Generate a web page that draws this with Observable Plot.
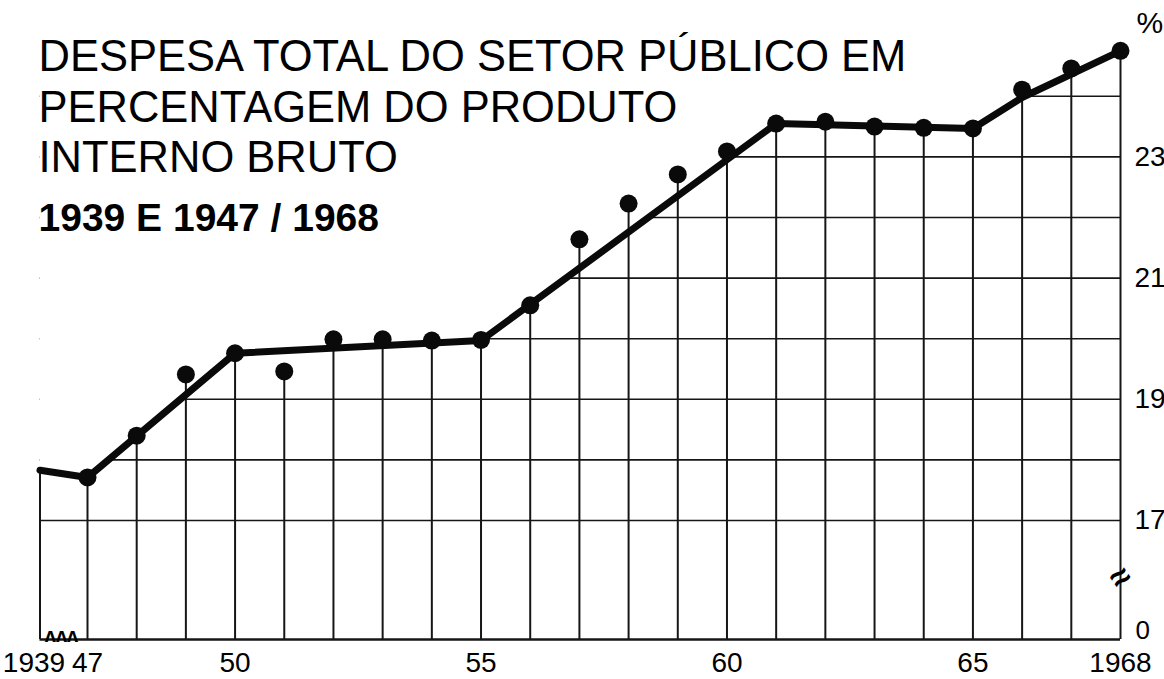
<!DOCTYPE html>
<html>
<head>
<meta charset="utf-8">
<script src="https://cdn.jsdelivr.net/npm/d3@7"></script>
<script src="https://cdn.jsdelivr.net/npm/@observablehq/plot@0.6"></script>
<style>
  html, body { margin: 0; padding: 0; background: #fff; }
  #chart { width: 1164px; height: 679px; }
</style>
</head>
<body>
<div id="chart"></div>
<script>
// ---- data ----
const years = [1947, 1948, 1949, 1950, 1951, 1952, 1953, 1954, 1955, 1956, 1957,
               1958, 1959, 1960, 1961, 1962, 1963, 1964, 1965, 1966, 1967, 1968];
const dotValues = [17.71, 18.40, 19.41, 19.76, 19.46, 19.99, 19.99, 19.97, 19.98, 20.55, 21.64,
                   22.23, 22.71, 23.09, 23.55, 23.58, 23.50, 23.48, 23.47, 24.11, 24.46, 24.75];
const trendYears  = [1939, 1947, 1950, 1955, 1961, 1965, 1966, 1968];
const trendValues = [17.83, 17.71, 19.76, 19.97, 23.55, 23.47, 23.98, 24.75];
const gridLevels = [17, 18, 19, 20, 21, 22, 23, 24];
const yTicks = [0, 17, 19, 21, 23];
const xTicks = [1939, 1947, 1950, 1955, 1960, 1965, 1968];
const titleLines = ["DESPESA TOTAL DO SETOR PÚBLICO EM", "PERCENTAGEM DO PRODUTO", "INTERNO BRUTO"];
const subtitle = "1939 E 1947 / 1968";
const unitLabel = "%";
const xBreakMark = "ʌʌʌ";
const yBreakMark = "≈";

// ---- derived tables ----
const dots = years.map((year, i) => ({year, value: dotValues[i]}));
const trend = trendYears.map((year, i) => ({year, value: trendValues[i]}));
const verticals = [trend[0], ...dots];
const xFirst = trendYears[0];
const xLast = years[years.length - 1];
const yTop = 25;

const font = "'Liberation Sans', Arial, sans-serif";
const ink = "#161616";
const fmtX = d => (d === xFirst || d === xLast) ? String(d) : String(d).slice(2);

const chart = Plot.plot({
  width: 1164,
  height: 679,
  marginLeft: 40,
  marginRight: 44,
  marginTop: 35,
  marginBottom: 40,
  style: {fontFamily: font, color: ink, background: "#fff", overflow: "visible"},
  x: {type: "linear", domain: [xFirst, 1947, xLast], range: [39.5, 87, 1120]},
  y: {type: "linear", domain: [0, 17, yTop], range: [639, 520, 35.2]},
  marks: [
    // horizontal grid
    Plot.ruleY(gridLevels, {y: d => d, x1: xFirst, x2: xLast, stroke: ink, strokeWidth: 1.6}),
    // blank out the grid above the trend line
    Plot.areaY(trend, {x: "year", y1: "value", y2: yTop, fill: "#fff"}),
    // vertical drop lines
    Plot.ruleX(verticals, {x: "year", y1: 0, y2: "value", stroke: ink, strokeWidth: 2}),
    // baseline
    Plot.ruleY([0], {x1: xFirst, x2: xLast, stroke: ink, strokeWidth: 2.5}),
    // trend line
    Plot.line(trend, {x: "year", y: "value", stroke: "#0a0a0a", strokeWidth: 7, strokeLinejoin: "round"}),
    // observed points
    Plot.dot(dots, {x: "year", y: "value", r: 9, fill: "#0a0a0a"}),
    // axes
    Plot.axisX(xTicks.filter(d => d !== xFirst), {
      tickSize: 0, tickPadding: 13, fontSize: 28, label: null, tickFormat: fmtX, fill: "#000"
    }),
    Plot.axisX([xFirst], {
      tickSize: 0, tickPadding: 13, fontSize: 28, label: null, tickFormat: fmtX, dx: -6, fill: "#000"
    }),
    Plot.axisY(yTicks.filter(d => d !== 0), {anchor: "right", tickSize: 0, tickPadding: 14, fontSize: 28, label: null, textAnchor: "start", fill: "#000"}),
    Plot.axisY([0], {anchor: "right", tickSize: 0, tickPadding: 15, fontSize: 26, label: null, textAnchor: "start", dy: -9, fill: "#000"}),
    // title
    Plot.text([titleLines.join("\n")], {
      text: d => d, frameAnchor: "top-left", textAnchor: "start", lineAnchor: "top",
      dx: -2, dy: 0, fontSize: 43.5, lineHeight: 1.16, fill: "#000"
    }),
    Plot.text([subtitle], {
      text: d => d, frameAnchor: "top-left", textAnchor: "start", lineAnchor: "top",
      dx: -2, dy: 168, fontSize: 39, fontWeight: "bold", fill: "#000", letterSpacing: "0.8px"
    }),
    // unit
    Plot.text([unitLabel], {
      text: d => d, frameAnchor: "top-right", textAnchor: "start", lineAnchor: "top",
      dx: 16, dy: -24, fontSize: 30, fill: "#000"
    }),
    // axis breaks
    Plot.text([xBreakMark], {
      text: d => d, frameAnchor: "bottom-left", textAnchor: "middle", lineAnchor: "middle",
      dx: 21, dy: -4, fontSize: 20, fontWeight: "bold", fill: "#000"
    }),
    Plot.text([yBreakMark], {
      text: d => d, frameAnchor: "bottom-right", textAnchor: "middle", lineAnchor: "middle",
      dx: 0, dy: -62, fontSize: 34, fontWeight: "bold", rotate: -35, fill: "#000"
    })
  ]
});
document.getElementById("chart").appendChild(chart);
</script>
</body>
</html>
